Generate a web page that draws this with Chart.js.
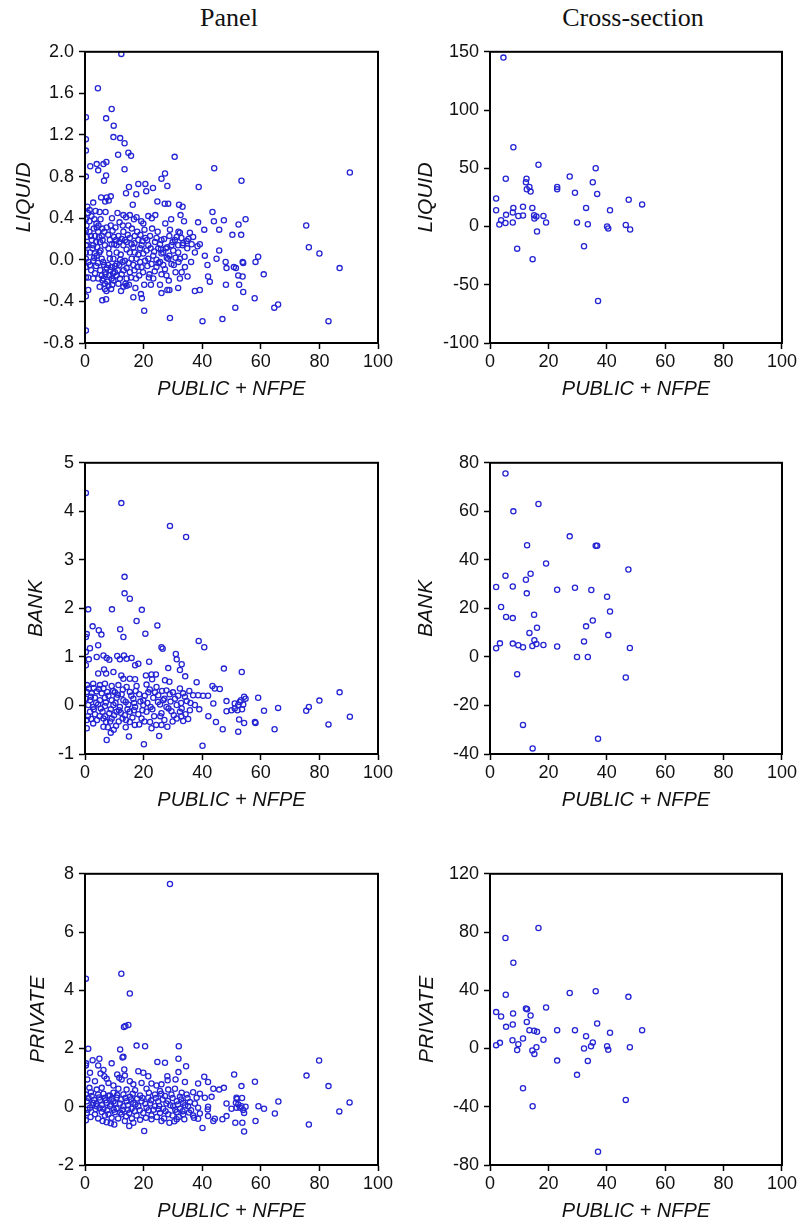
<!DOCTYPE html>
<html>
<head>
<meta charset="utf-8">
<script src="https://cdn.jsdelivr.net/npm/chart.js@4.4.1/dist/chart.umd.min.js"></script>
<style>
  html, body { margin: 0; padding: 0; background: #fff; }
  body { width: 799px; height: 1223px; position: relative; overflow: hidden; }
  canvas { position: absolute; }
  .ttl { position: absolute; top: 3px; font-family: "Liberation Serif", "Times New Roman", serif; font-size: 26px; line-height: 30px; color: #111; white-space: nowrap; transform: translateX(-50%); }
</style>
</head>
<body>
<div class="ttl" style="left:229px">Panel</div>
<div class="ttl" style="left:633px">Cross-section</div>
<canvas id="c1" width="400" height="365" style="left:0;top:36px"></canvas>
<canvas id="c2" width="399" height="365" style="left:400px;top:36px"></canvas>
<canvas id="c3" width="400" height="365" style="left:0;top:447px"></canvas>
<canvas id="c4" width="399" height="365" style="left:400px;top:447px"></canvas>
<canvas id="c5" width="400" height="365" style="left:0;top:858px"></canvas>
<canvas id="c6" width="399" height="365" style="left:400px;top:858px"></canvas>
<script>
// ---------- tick labels ----------
const xTicks = ["0","20","40","60","80","100"];
const liquidPanelTicks = ["-0.8","-0.4","0.0","0.4","0.8","1.2","1.6","2.0"];
const bankPanelTicks = ["-1","0","1","2","3","4","5"];
const privatePanelTicks = ["-2","0","2","4","6","8"];
const liquidCrossTicks = ["-100","-50","0","50","100","150"];
const bankCrossTicks = ["-40","-20","0","20","40","60","80"];
const privateCrossTicks = ["-80","-40","0","40","80","120"];
const xTitle = "PUBLIC + NFPE";

// ---------- Panel: LIQUID vs PUBLIC + NFPE ----------
const liquidPanel = [
[12.4,1.98],[4.4,1.65],[0.3,1.37],[9.1,1.45],[7.2,1.36],[9.8,1.29],[9.7,1.18],[12.0,1.17],[13.5,1.12],[0.3,1.16],[0.3,1.05],[11.3,1.01],[14.8,1.03],[15.7,1.00],[30.6,0.99],[1.8,0.90],[4.0,0.92],[6.3,0.92],[7.3,0.94],[4.5,0.86],[13.5,0.87],[7.2,0.81],[6.5,0.76],[0.3,0.80],[44.1,0.88],[53.4,0.76],[27.3,0.83],[26.1,0.78],[20.6,0.73],[18.2,0.73],[14.0,0.64],[15.0,0.70],[17.5,0.63],[23.2,0.69],[20.9,0.66],[28.1,0.71],[38.8,0.70],
[5.5,0.60],[7.4,0.60],[8.8,0.61],[8.1,0.57],[6.9,0.56],[16.3,0.53],[0.8,0.51],[2.8,0.55],[1.6,0.48],[24.7,0.56],[27.2,0.54],[28.4,0.54],[32.1,0.53],[33.3,0.51],
[5.0,0.46],[3.6,0.47],[7.0,0.46],[9.2,0.40],[11.1,0.45],[13.1,0.43],[14.0,0.41],[15.3,0.43],[16.7,0.39],[17.6,0.41],[19.2,0.37],[21.6,0.42],[22.8,0.40],[24.0,0.43],[29.4,0.39],[32.6,0.43],[33.8,0.37],[38.6,0.36],[43.5,0.46],[44.0,0.37],[47.4,0.38],[52.4,0.34],
[0.5,0.33],[1.5,0.37],[3.2,0.39],[5.3,0.39],[4.0,0.31],[7.4,0.31],[9.4,0.28],[14.8,0.33],[19.9,0.35],[27.4,0.35],[31.9,0.27],[35.8,0.26],[40.7,0.29],[45.8,0.29],[50.3,0.24],[53.3,0.24],
[0.6,0.22],[2.0,0.23],[4.8,0.22],[6.0,0.19],[8.5,0.19],[11.4,0.23],[12.5,0.20],[15.3,0.21],[17.0,0.23],[18.2,0.19],[20.6,0.21],[22.2,0.23],[24.4,0.21],[26.1,0.19],[28.8,0.23],[31.3,0.22],[32.4,0.26],[36.9,0.22],[39.2,0.15],[38.4,0.13],
[0.8,0.14],[2.8,0.14],[4.2,0.12],[6.8,0.14],[10.0,0.15],[13.1,0.14],[14.2,0.10],[16.5,0.12],[19.3,0.14],[22.4,0.11],[25.6,0.15],[27.6,0.11],[29.5,0.14],[33.5,0.16],[34.9,0.11],[45.8,0.09],
[1.7,0.07],[3.4,0.06],[5.3,0.09],[8.3,0.06],[10.8,0.07],[12.2,0.05],[15.3,0.07],[18.2,0.05],[21.0,0.09],[23.3,0.04],[26.1,0.06],[28.8,0.04],[31.8,0.07],[37.5,0.07],
[0.3,0.01],[2.8,-0.01],[5.7,0.01],[9.7,0.01],[13.6,-0.01],[17.6,0.01],[21.6,0.01],[24.4,0.0],[28.4,0.01],[32.4,0.01],[40.9,0.04],[44.9,0.01],[48.0,-0.02],[50.8,-0.07],[53.8,-0.02],
[1.7,-0.05],[3.8,-0.06],[6.5,-0.05],[7.4,-0.08],[9.1,-0.07],[11.7,-0.05],[14.2,-0.08],[16.5,-0.05],[19.3,-0.07],[22.7,-0.04],[26.7,-0.05],[30.3,-0.05],[34.1,-0.07],[41.8,-0.05],[48.3,-0.08],[51.5,-0.08],
[6.8,-0.12],[8.3,-0.15],[10.2,-0.12],[12.5,-0.14],[15.3,-0.12],[18.5,-0.15],[1.1,-0.17],[5.7,-0.15],[26.1,-0.14],[33.0,-0.12],[42.0,-0.16],[52.3,-0.15],[53.8,-0.16],
[6.3,-0.18],[7.6,-0.21],[9.7,-0.20],[11.9,-0.18],[13.8,-0.23],[14.2,-0.25],[20.2,-0.24],[22.5,-0.24],[25.6,-0.24],[28.8,-0.29],[31.8,-0.27],[42.6,-0.21],[48.1,-0.24],[54.0,-0.31],
[1.1,-0.29],[6.8,-0.28],[8.9,-0.28],[16.5,-0.36],[19.1,-0.33],[19.4,-0.37],[26.1,-0.32],[28.1,-0.29],[37.5,-0.30],[39.2,-0.29],[5.9,-0.39],[7.2,-0.38],[20.2,-0.49],[29.0,-0.56],[40.1,-0.59],[46.9,-0.57],[51.3,-0.46],[0.3,-0.68],
[90.4,0.84],[54.8,0.39],[75.5,0.33],[76.4,0.12],[80.0,0.06],[86.9,-0.08],[83.1,-0.59],[59.1,0.03],[58.2,-0.02],[54.0,-0.03],[52.6,-0.24],[61.0,-0.14],[57.9,-0.37],[64.6,-0.46],[65.9,-0.43],
[0.3,0.39],[0.3,0.28],[0.3,0.14],[0.3,0.07],[0.3,-0.07],[0.3,-0.17],[0.3,-0.35],
[1.5,0.27],[2.3,0.19],[3.4,0.23],[3.8,0.17],[4.5,0.27],[5.1,0.17],[5.7,0.23],[2.6,0.11],[4.0,0.04],[4.9,0.07],[8.0,0.11],[9.1,0.15],[10.8,0.14],[10.6,0.19],[11.7,0.17],[13.1,0.27],[14.2,0.17],[15.9,0.15],[17.0,0.07],[18.8,0.11],[19.9,0.06],[20.5,-0.01],[21.6,0.14],[23.9,0.17],[25.0,0.11],[26.7,0.07],[28.1,0.12],[30.1,0.09],[30.7,0.19],[31.8,0.14],[33.3,0.14],[34.7,0.18],[36.4,0.15],
[8.5,0.01],[10.8,-0.04],[12.8,-0.02],[15.9,0.01],[18.8,-0.02],[25.6,-0.02],[29.5,-0.04],[10.8,-0.15],[9.1,-0.18],[8.0,-0.25],[6.8,-0.23],[6.0,-0.20],[14.2,-0.18],[17.4,-0.18],[13.1,-0.26],[11.4,-0.23],[23.3,-0.18],[27.8,-0.15],[32.4,-0.18],[24.4,-0.07],[3.4,-0.13],[2.8,-0.18],[4.5,-0.18],
[1.0,0.45],[2.2,0.42],[3.0,0.30],[3.9,0.35],[4.6,0.33],[5.9,0.30],[6.6,0.27],[7.9,0.24],[8.8,0.33],[9.9,0.22],[10.4,0.31],[11.8,0.36],[12.9,0.33],[13.7,0.19],[14.6,0.24],[16.0,0.30],[16.9,0.16],[17.8,0.27],[18.9,0.24],[19.6,0.18],[20.3,0.29],[21.2,0.19],[22.9,0.30],[23.6,0.08],[24.8,0.27],[25.9,0.10],[27.0,0.20],[27.9,0.02],[29.0,0.29],[29.9,0.17],[30.9,0.02],[32.9,0.21],[34.0,0.03],[35.3,0.20],[36.2,-0.02],
[1.2,-0.02],[2.1,-0.10],[3.1,0.02],[4.4,-0.03],[5.2,-0.10],[6.2,-0.02],[7.0,-0.14],[7.9,-0.05],[8.7,-0.10],[9.6,-0.13],[10.3,-0.06],[11.2,-0.10],[12.0,0.00],[13.2,-0.10],[14.9,-0.03],[15.7,-0.17],[16.9,-0.10],[17.9,-0.07],[19.8,-0.12],[21.3,-0.06],[22.0,-0.14],[23.8,-0.11],[25.1,-0.03],[27.3,-0.09],[28.6,-0.20],[30.9,-0.12],[31.9,-0.02],[35.0,-0.16],[7.3,-0.30],[5.0,-0.26],[9.3,-0.24],[12.3,-0.30],[15.0,-0.24],[17.2,-0.27],[21.8,-0.17]
];

// ---------- Panel: BANK vs PUBLIC + NFPE ----------
const bankPanel = [
[0.3,4.38],[12.4,4.17],[29.0,3.70],[34.5,3.47],[13.5,2.65],[13.5,2.31],[15.3,2.20],[1.1,1.98],[9.2,1.98],[19.4,1.97],[17.6,1.74],[24.7,1.65],[12.0,1.57],[2.6,1.63],[4.7,1.55],[5.6,1.46],[13.1,1.41],[20.6,1.48],[0.3,1.41],[0.6,1.47],[26.1,1.20],[26.5,1.17],[38.8,1.33],[40.7,1.20],[1.7,1.18],[4.5,1.24],[0.3,1.10],[1.3,0.95],[4.0,1.00],[6.3,1.03],[7.4,0.98],[8.3,0.94],[11.0,1.02],[11.9,0.95],[13.3,1.03],[14.2,0.96],[15.9,0.98],[17.1,0.83],[18.2,0.86],[21.9,0.90],[31.0,1.06],[31.3,0.95],[33.0,0.85],[32.4,0.73],[28.4,0.77],[47.4,0.76],[53.5,0.69],[0.3,0.83],[4.5,0.66],[6.5,0.74],[7.2,0.66],[9.7,0.69],[12.4,0.62],[13.1,0.55],[15.3,0.55],[17.1,0.54],[20.8,0.62],[22.7,0.64],[24.2,0.64],[22.9,0.54],[27.3,0.52],[28.8,0.49],[34.2,0.60],[38.1,0.48],
[0.7,0.42],[2.8,0.45],[5.1,0.42],[6.8,0.45],[9.1,0.40],[11.4,0.42],[14.2,0.38],[17.6,0.40],[21.0,0.43],[24.4,0.38],[27.8,0.31],[32.4,0.35],[35.6,0.30],[43.5,0.40],[46.0,0.34],[44.3,0.35],
[0.6,0.28],[2.3,0.25],[4.0,0.29],[5.7,0.25],[7.6,0.28],[10.2,0.27],[12.5,0.23],[15.3,0.28],[18.5,0.23],[21.6,0.27],[25.0,0.21],[28.9,0.23],[33.5,0.25],[38.6,0.21],[42.0,0.20],
[0.3,0.14],[1.7,0.11],[3.4,0.16],[5.1,0.11],[6.8,0.16],[9.1,0.11],[10.8,0.16],[13.1,0.11],[16.5,0.14],[19.9,0.11],[23.3,0.16],[26.7,0.11],[30.7,0.14],[34.7,0.09],[36.9,0.21],[40.3,0.20],[48.3,0.09],[51.1,0.04],[52.8,0.07],
[1.1,0.01],[2.8,-0.03],[4.5,0.02],[6.8,-0.01],[9.7,0.01],[11.9,-0.03],[14.8,0.02],[17.1,-0.03],[19.9,0.01],[22.4,-0.03],[25.6,0.02],[27.8,-0.03],[31.3,0.01],[33.0,-0.06],[37.5,0.01],[39.0,-0.08],[43.8,0.04],[48.3,-0.12],[50.0,-0.10],
[1.7,-0.13],[3.4,-0.18],[6.0,-0.13],[8.3,-0.16],[10.8,-0.13],[13.6,-0.20],[15.3,-0.13],[18.2,-0.18],[21.0,-0.13],[26.1,-0.16],[29.5,-0.12],[32.4,-0.13],[35.8,-0.10],[42.1,-0.22],
[0.6,-0.30],[0.6,-0.47],[6.3,-0.27],[7.2,-0.34],[6.3,-0.44],[9.1,-0.27],[10.6,-0.42],[12.8,-0.27],[15.3,-0.34],[18.5,-0.39],[19.3,-0.27],[22.2,-0.34],[22.7,-0.47],[26.1,-0.40],[28.1,-0.44],[31.3,-0.27],[33.5,-0.32],[44.7,-0.34],[47.0,-0.49],[52.3,-0.54],[7.4,-0.71],[8.8,-0.56],[15.0,-0.64],[20.1,-0.80],[25.3,-0.63],[40.1,-0.83],[2.8,-0.37],
[59.1,0.16],[65.9,-0.05],[61.1,-0.11],[58.0,-0.34],[58.2,-0.36],[64.7,-0.49],[75.5,-0.11],[76.4,-0.03],[80.0,0.10],[86.9,0.27],[83.1,-0.39],[90.4,-0.23],
[52.3,0.01],[53.2,0.11],[54.3,0.18],[54.8,0.14],[53.6,-0.08],[52.0,-0.10],[54.0,0.02],[52.6,-0.29],[54.3,-0.36],[51.1,-0.06],
[1.3,0.35],[2.0,0.18],[3.0,0.36],[3.8,0.05],[4.8,0.34],[5.4,-0.06],[6.3,0.35],[7.1,0.06],[8.0,0.20],[8.8,-0.08],[9.6,0.30],[10.4,0.05],[11.2,0.22],[11.6,-0.10],[12.9,0.33],[13.9,0.07],[14.5,-0.08],[15.8,0.20],[16.8,0.05],[17.3,0.30],[18.9,0.08],[19.6,-0.10],[20.4,0.20],[21.3,0.05],[22.1,0.33],[23.0,-0.08],[23.9,0.27],[24.9,0.07],[25.7,-0.22],[26.3,0.30],[27.1,0.14],[28.5,-0.06],[29.2,0.08],[30.0,0.27],[30.3,-0.20],[31.8,0.20],[32.8,0.05],[34.1,0.18],[34.3,-0.18],[36.0,0.05],
[1.0,-0.22],[2.1,-0.28],[3.0,-0.08],[4.1,-0.30],[5.0,-0.22],[6.9,-0.22],[7.8,-0.45],[8.6,-0.33],[9.9,-0.20],[11.5,-0.33],[12.2,-0.15],[14.0,-0.30],[16.2,-0.25],[17.0,-0.40],[20.3,-0.33],[23.6,-0.22],[24.3,-0.40],[27.1,-0.30],[29.9,-0.33],[32.9,-0.22],[35.2,-0.28],[13.9,-0.45],[9.8,-0.50],[16.7,-0.10]
];

// ---------- Panel: PRIVATE vs PUBLIC + NFPE ----------
const privatePanel = [
[29.0,7.65],[12.4,4.57],[0.3,4.40],[15.3,3.89],[13.3,2.74],[13.8,2.77],[14.8,2.81],
[1.1,1.99],[12.0,1.97],[17.6,2.10],[20.5,2.08],[32.0,2.08],[2.6,1.60],[4.9,1.65],[4.5,1.42],[6.3,1.26],[12.8,1.69],[13.1,1.72],[9.1,1.49],[0.3,1.42],[0.4,1.49],[24.7,1.54],[27.3,1.51],[31.9,1.65],[34.5,1.39],
[1.7,1.17],[5.3,1.14],[6.6,1.05],[11.0,1.11],[13.4,1.28],[13.6,1.07],[12.5,0.94],[11.7,1.00],[18.2,1.22],[19.9,1.17],[21.6,1.05],[28.1,1.05],[28.2,0.91],[30.9,0.94],[31.9,1.19],[34.1,0.85],[40.7,1.03],[42.0,0.85],[38.6,0.80],[0.8,0.94],[3.4,0.88],[7.4,0.96],[8.0,0.82],[9.7,0.73],[15.3,0.88],[16.5,0.77],[19.3,0.82],[22.7,0.80],[24.4,0.73],[26.1,0.77],[43.8,0.62],[45.8,0.59],[47.4,0.65],[50.9,1.11],[53.4,0.71],
[1.5,0.65],[4.0,0.59],[5.7,0.65],[9.7,0.48],[11.4,0.62],[14.2,0.59],[17.1,0.57],[21.0,0.62],[25.6,0.54],[28.4,0.59],[30.7,0.62],[33.0,0.48],[36.9,0.50],[39.2,0.45],
[0.3,0.42],[2.3,0.37],[4.5,0.42],[6.8,0.31],[8.5,0.39],[10.8,0.31],[13.1,0.42],[15.3,0.34],[18.8,0.39],[21.6,0.31],[23.9,0.42],[27.3,0.37],[29.5,0.42],[32.4,0.34],[34.7,0.42],[38.1,0.31],[40.9,0.31],[43.2,0.34],[51.7,0.31],
[0.6,0.19],[2.8,0.14],[5.1,0.23],[7.4,0.14],[9.7,0.19],[11.9,0.11],[14.2,0.19],[16.5,0.14],[19.3,0.19],[22.2,0.11],[25.0,0.19],[27.8,0.11],[31.3,0.19],[33.5,0.14],[35.8,0.16],[37.5,0.11],[48.3,0.11],
[1.7,-0.03],[4.0,0.02],[6.3,-0.07],[8.5,0.02],[10.8,-0.07],[13.1,0.02],[15.9,-0.07],[18.2,0.02],[21.0,-0.03],[23.9,0.02],[26.7,-0.07],[30.1,0.02],[32.4,-0.07],[35.2,0.02],[38.6,-0.03],[42.0,0.0],[50.0,-0.07],[51.7,-0.03],[53.4,0.02],
[0.6,-0.21],[3.4,-0.26],[5.7,-0.18],[8.0,-0.26],[10.2,-0.18],[12.5,-0.26],[15.1,-0.21],[17.6,-0.30],[19.9,-0.21],[22.7,-0.30],[25.6,-0.21],[28.4,-0.26],[31.3,-0.18],[33.5,-0.26],[36.9,-0.30],[39.2,-0.23],[42.0,-0.32],[44.3,-0.41],[46.9,-0.43],
[0.3,-0.46],[6.0,-0.49],[7.4,-0.53],[8.8,-0.57],[10.0,-0.61],[13.6,-0.49],[15.1,-0.66],[16.5,-0.55],[22.7,-0.43],[26.1,-0.49],[28.8,-0.55],[31.3,-0.43],[33.9,-0.43],[37.2,-0.38],[38.6,-0.41],[20.2,-0.83],[40.1,-0.73],[51.3,-0.55],
[51.9,0.27],[53.6,0.30],[54.8,0.0],[54.3,-0.21],[48.3,-0.32],[41.9,-0.09],[43.8,-0.49],[53.7,-0.55],
[79.9,1.59],[75.6,1.07],[83.1,0.71],[90.3,0.15],[86.8,-0.16],[76.4,-0.61],[58.0,0.86],[66.0,0.18],[59.2,0.02],[61.1,-0.07],[64.8,-0.23],[58.2,-0.49],[54.3,-0.85],
[52.3,0.08],[52.9,-0.03],[54.0,-0.11],[51.5,0.14],
[1.2,0.30],[2.0,0.50],[3.1,0.23],[3.9,0.10],[4.8,0.32],[5.8,0.05],[6.3,0.45],[7.0,0.22],[7.9,0.38],[8.9,0.08],[9.2,0.28],[10.3,0.12],[11.0,0.40],[12.3,0.25],[12.8,-0.10],[13.8,0.30],[14.6,0.05],[15.7,0.25],[16.3,0.45],[17.2,0.08],[17.8,0.28],[18.7,-0.12],[19.6,0.30],[20.6,0.10],[21.8,0.48],[22.6,0.22],[23.4,-0.10],[24.2,0.30],[25.3,0.03],[26.0,0.45],[26.5,0.25],[27.5,-0.15],[28.3,0.20],[29.1,0.05],[29.9,0.30],[30.8,-0.10],[31.7,0.08],[32.8,0.25],[33.3,-0.15],[34.2,0.05],[35.0,0.30],[36.2,-0.12],
[0.9,-0.10],[1.9,-0.35],[2.5,0.05],[3.6,-0.08],[4.5,-0.40],[5.0,-0.05],[6.8,-0.30],[7.6,-0.12],[9.1,-0.38],[9.8,-0.10],[11.3,-0.40],[12.0,-0.20],[14.0,-0.33],[14.7,-0.10],[16.0,-0.40],[17.0,-0.15],[18.8,-0.45],[20.8,-0.38],[21.7,-0.12],[24.5,-0.35],[25.1,-0.08],[27.0,-0.40],[29.9,-0.30],[30.5,-0.50],[32.0,-0.35],[35.5,-0.20]
];

// ---------- Cross-section ----------
const liquidCross = [
[4.6,145],[8.0,68],[5.4,41],[16.6,53],[2.1,24],[2.1,14],[3.8,5.4],[3.2,1.7],[5.3,3],[5.5,10],[7.8,12],[8.0,16],[7.8,3.4],[9.7,9],[11.3,17],[11.3,9.4],[9.3,-19],[12.5,41],[12.3,38],[12.6,32],[13.5,34],[13.9,30],[14.5,16],[15.1,9.7],[15.2,6.9],[15.9,8.6],[16.1,-4.3],[14.6,-28],[18.3,9.1],[19.2,3.4],[23.0,34],[23.0,32],[27.3,43],[29.1,29],[29.8,3.4],[32.9,16],[32.2,-17],[33.5,2],[36.2,50],[35.2,38],[36.7,28],[37.0,-64],[40.1,0.0],[40.5,-1.7],[41.1,14],[46.5,1.4],[48.0,-2.6],[47.5,23],[52.1,19]
];
const bankCross = [
[5.3,75.6],[8.0,60],[16.6,63],[12.7,46],[27.3,49.7],[36.2,45.8],[36.7,45.8],[19.2,38.5],[47.4,36],[5.3,33.5],[13.9,34.3],[2.1,28.8],[7.8,29],[12.3,31.8],[12.6,26.2],[23.0,27.7],[29.1,28.5],[34.7,27.6],[40.1,24.8],[41.1,18.7],[3.8,20.6],[5.5,16.5],[7.8,16],[15.1,17.4],[16.1,12],[32.9,12.6],[35.2,15],[40.5,9],[13.5,9.9],[2.1,3.6],[3.4,5.6],[7.8,5.5],[9.7,4.8],[11.3,4],[14.5,4.5],[15.2,6.9],[15.9,5.3],[18.3,4.9],[23.0,4.3],[32.2,6.4],[47.9,3.7],[29.8,0],[33.5,0],[9.3,-7.1],[46.5,-8.5],[11.3,-28],[14.6,-37.7],[37.0,-33.7]
];
const privateCross = [
[16.6,82.8],[5.3,75.9],[8.0,58.9],[5.4,36.9],[27.3,38.1],[36.2,39.4],[47.4,35.5],[12.3,27.5],[12.7,27],[19.2,28.2],[2.1,25],[3.8,22],[7.9,24.1],[13.9,22.7],[12.6,18.3],[36.7,17.2],[7.8,16.5],[5.5,14.9],[13.5,12.6],[15.1,12.2],[16.1,11.5],[23.0,12.6],[29.1,12.6],[52.1,12.6],[41.1,10.8],[32.9,8.5],[7.7,5.7],[11.3,6.9],[18.3,6.0],[35.2,4.1],[34.6,1.6],[40.1,1.6],[47.9,0.9],[3.4,3.9],[2.1,2.3],[9.7,3.0],[15.9,0.9],[14.5,-1.4],[15.2,-3.7],[9.3,-1.1],[32.2,0],[40.5,-0.9],[23.0,-8.3],[33.5,-8.5],[29.8,-18.1],[11.3,-27.3],[14.6,-39.7],[46.5,-35.3],[37.0,-70.9]
];

// ---------- drawing ----------
const MARK = '#2525d4';
const framePlugin = {
  id: 'frame',
  afterDraw(chart) {
    const { ctx, chartArea: a } = chart;
    ctx.save();
    ctx.strokeStyle = '#000';
    ctx.lineWidth = 2;
    ctx.strokeRect(a.left, a.top, a.right - a.left, a.bottom - a.top);
    ctx.restore();
  }
};

function tickAxis(labels) {
  const vals = labels.map(Number);
  return {
    min: vals[0],
    max: vals[vals.length - 1],
    afterBuildTicks: s => { s.ticks = vals.map(v => ({ value: v })); },
    labels
  };
}

function makeChart(id, points, yLabels, yTitle, opt) {
  const xa = tickAxis(xTicks);
  const ya = tickAxis(yLabels);
  const sans = "'Liberation Sans', Arial, Helvetica, sans-serif";
  return new Chart(document.getElementById(id), {
    type: 'scatter',
    data: {
      datasets: [{
        data: points.map(p => ({ x: p[0], y: p[1] })),
        pointStyle: 'circle',
        pointRadius: 2.6,
        pointHoverRadius: 2.6,
        borderWidth: 1.3,
        borderColor: MARK,
        backgroundColor: 'rgba(0,0,0,0)'
      }]
    },
    options: {
      responsive: false,
      animation: false,
      events: [],
      layout: { padding: { top: 15, right: opt.padRight, left: 0, bottom: 0 } },
      plugins: { legend: { display: false }, tooltip: { enabled: false }, title: { display: false } },
      scales: {
        x: {
          type: 'linear',
          min: xa.min, max: xa.max,
          afterBuildTicks: xa.afterBuildTicks,
          afterFit: s => { s.height = 58; },
          grid: { drawOnChartArea: false, drawTicks: true, tickLength: 6, tickWidth: 1.5, tickColor: '#000' },
          border: { display: true, color: '#000', width: 2 },
          ticks: { padding: 2, color: '#111', font: { family: sans, size: 18 }, maxRotation: 0, callback: (v, i) => xa.labels[i] },
          title: { display: true, text: xTitle, color: '#111', font: { family: sans, size: 20, style: 'italic' }, padding: { top: 0, bottom: 0 } }
        },
        y: {
          type: 'linear',
          min: ya.min, max: ya.max,
          afterBuildTicks: ya.afterBuildTicks,
          afterFit: s => { s.width = opt.yWidth; },
          grid: { drawOnChartArea: false, drawTicks: true, tickLength: 6, tickWidth: 1.5, tickColor: '#000' },
          border: { display: true, color: '#000', width: 2 },
          ticks: { padding: 5, color: '#111', font: { family: sans, size: 18 }, callback: (v, i) => ya.labels[i] },
          title: { display: true, text: yTitle, color: '#111', font: { family: sans, size: 21, style: 'italic' }, padding: { top: opt.titlePad, bottom: 0 } }
        }
      }
    },
    plugins: [framePlugin]
  });
}

makeChart('c1', liquidPanel, liquidPanelTicks, 'LIQUID', { padRight: 22, yWidth: 85, titlePad: 12 });
makeChart('c2', liquidCross, liquidCrossTicks, 'LIQUID', { padRight: 17, yWidth: 90, titlePad: 14 });
makeChart('c3', bankPanel, bankPanelTicks, 'BANK', { padRight: 22, yWidth: 85, titlePad: 24 });
makeChart('c4', bankCross, bankCrossTicks, 'BANK', { padRight: 17, yWidth: 90, titlePad: 14 });
makeChart('c5', privatePanel, privatePanelTicks, 'PRIVATE', { padRight: 22, yWidth: 85, titlePad: 26 });
makeChart('c6', privateCross, privateCrossTicks, 'PRIVATE', { padRight: 17, yWidth: 90, titlePad: 15 });
</script>
</body>
</html>
